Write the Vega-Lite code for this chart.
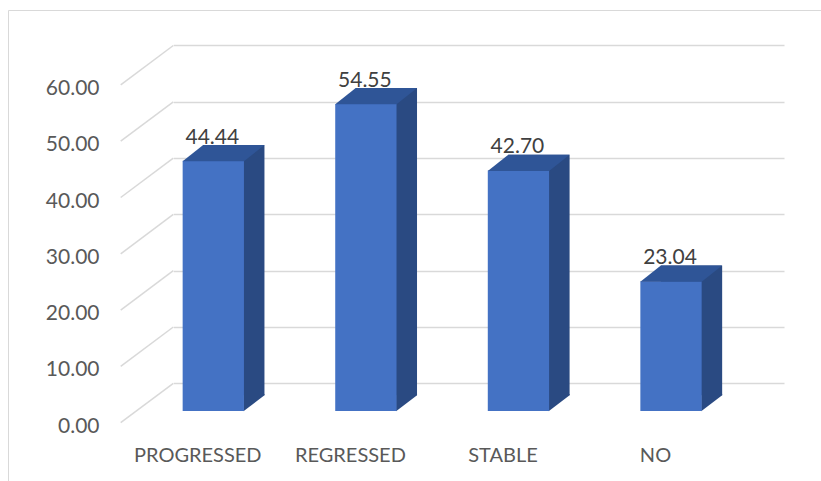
{
  "$schema": "https://vega.github.io/schema/vega-lite/v6.json",
  "width": 823,
  "height": 481,
  "autosize": {"type": "none"},
  "padding": {"left": 8, "top": 10, "right": -10, "bottom": -10},
  "config": {
    "view": {"stroke": "#d9d9d9", "strokeWidth": 1},
    "font": "Lato"
  },
  "datasets": {
    "status": [
      {"status": "PROGRESSED", "value": 44.44},
      {"status": "REGRESSED", "value": 54.55},
      {"status": "STABLE", "value": 42.70},
      {"status": "NO", "value": 23.04}
    ],
    "gridTicks": [
      {"tick": 0}, {"tick": 10}, {"tick": 20}, {"tick": 30},
      {"tick": 40}, {"tick": 50}, {"tick": 60}
    ]
  },
  "data": {"name": "status"},
  "encoding": {
    "x": {
      "field": "status",
      "type": "nominal",
      "sort": null,
      "scale": {
        "type": "band",
        "range": [165.3, 776],
        "paddingInner": 0.5982,
        "paddingOuter": 0.3005,
        "align": 0.102
      },
      "axis": {
        "title": null,
        "domain": false,
        "ticks": false,
        "grid": false,
        "labelAngle": 0,
        "labelFont": "Lato",
        "labelFontSize": 20,
        "labelColor": "#595959",
        "labelBaseline": "middle",
        "labelPadding": -36,
        "labelOffset": -15.5
      }
    }
  },
  "layer": [
    {
      "layer": [
        {
          "data": {"name": "gridTicks"},
          "mark": {"type": "rule", "color": "#d9d9d9", "strokeWidth": 1.5, "yOffset": 39.4, "y2Offset": 0},
          "encoding": {
            "x": {"value": 112.7},
            "x2": {"value": 165.3},
            "y": {
              "field": "tick",
              "type": "quantitative",
              "scale": {"domain": [-19.13, 66.305], "nice": false, "zero": false},
              "axis": {
                "orient": "left",
                "title": null,
                "values": [0, 10, 20, 30, 40, 50, 60],
                "format": ".2f",
                "domain": false,
                "ticks": false,
                "tickSize": 0,
                "grid": true,
                "gridColor": "#d9d9d9",
                "gridWidth": 1.5,
                "labelFont": "Lato",
                "labelFontSize": 21,
                "labelColor": "#595959",
                "labelPadding": -91,
                "labelOffset": 43
              }
            },
            "y2": {"field": "tick"}
          }
        },
        {
          "mark": {
            "type": "text",
            "baseline": "middle",
            "align": "center",
            "dy": 4.5,
            "xOffset": -1,
            "font": "Lato",
            "fontSize": 21,
            "color": "#404040"
          },
          "encoding": {
            "y": {
              "field": "value",
              "type": "quantitative",
              "scale": {"domain": [-19.13, 66.305], "nice": false, "zero": false},
              "axis": {
                "orient": "left",
                "title": null,
                "values": [0, 10, 20, 30, 40, 50, 60],
                "format": ".2f",
                "domain": false,
                "ticks": false,
                "tickSize": 0,
                "grid": true,
                "gridColor": "#d9d9d9",
                "gridWidth": 1.5,
                "labelFont": "Lato",
                "labelFontSize": 21,
                "labelColor": "#595959",
                "labelPadding": -91,
                "labelOffset": 43
              }
            },
            "text": {"field": "value", "type": "quantitative", "format": ".2f"}
          }
        }
      ]
    },
    {
      "encoding": {
        "y": {
          "field": "value",
          "type": "quantitative",
          "scale": {"domain": [-14.21, 71.225], "nice": false, "zero": false},
          "axis": null
        }
      },
      "layer": [
        {
          "mark": {"type": "bar", "color": "#2A4A82", "xOffset": 20.5, "yOffset": -15.8, "y2Offset": -15.8},
          "encoding": {"y2": {"datum": 0}}
        },
        {
          "mark": {
            "type": "point",
            "shape": "M30.2,0.3 L51.15,-15.8 L51.15,-17 L30.2,-17 Z",
            "size": 4,
            "filled": true,
            "opacity": 1,
            "strokeWidth": 0,
            "color": "#2A4A82"
          },
          "encoding": {"y": {"datum": 0, "type": "quantitative"}}
        },
        {
          "mark": {"type": "bar", "color": "#4472C4"},
          "encoding": {"y2": {"datum": 0}}
        },
        {
          "mark": {
            "type": "point",
            "shape": "M-30.65,0.4 L30.65,0.4 L51.15,-15.8 L-10.15,-15.8 Z",
            "size": 4,
            "filled": true,
            "opacity": 1,
            "strokeWidth": 0,
            "color": "#2F5597"
          }
        }
      ]
    }
  ],
  "resolve": {"scale": {"y": "independent"}}
}
